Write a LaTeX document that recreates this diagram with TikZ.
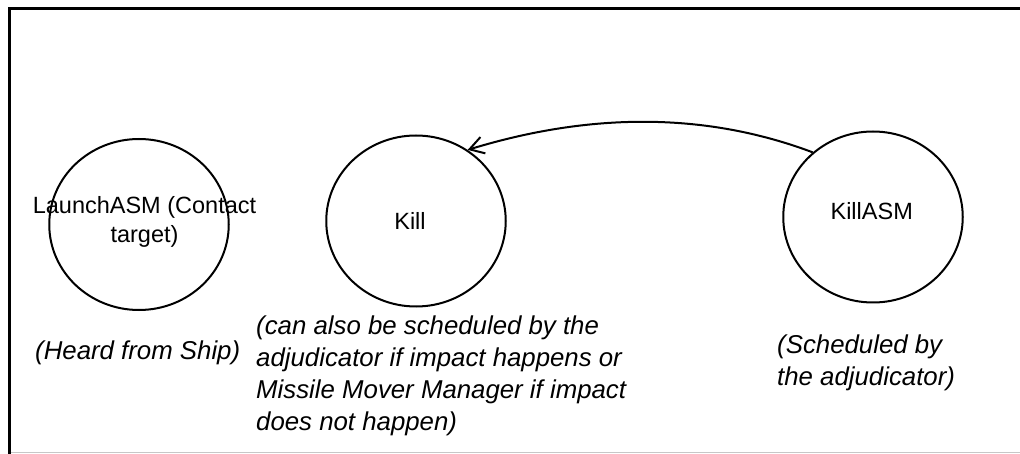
\documentclass[tikz,border=0pt]{standalone}
\usepackage{fontspec}
\setmainfont{Liberation Sans}
\usetikzlibrary{shapes.geometric,arrows.meta}
\begin{document}
\begin{tikzpicture}[x=1pt,y=-1pt,
  statebox/.style={draw=black, line width=2pt, ellipse, minimum width=179.5pt, minimum height=171pt, inner sep=0pt},
  labeltext/.style={font=\fontsize{23.5}{29.5}\selectfont, inner sep=0pt, align=center},
  notetext/.style={font=\fontsize{25.8}{32}\selectfont\itshape, inner sep=0pt, align=left, anchor=north west},
  frameline/.style={line width=3pt, draw=black},
  trans/.style={line width=2pt, -{Straight Barb[length=14pt,width=17pt]}}]
\useasboundingbox (0,0) rectangle (1020,454);
% frame
\coordinate (tl) at (9.5,8.8);
\coordinate (tr) at (1020,8.8);
\coordinate (bl) at (9.5,454);
\coordinate (gl) at (11,452.5);
\coordinate (gr) at (1020,452.5);
\draw[frameline] (tr) -- (tl) -- (bl);
\draw[black!22, line width=1pt] (gl) -- (gr);
% states
\node[statebox] (launch) at (139,224.5) {};
\node[statebox] (kill) at (416,221) {};
\node[statebox] (killasm) at (873,217) {};
% state labels
\node[labeltext, anchor=north] (launchtxt) at (144.5,192.35) {\strut LaunchASM (Contact\\\strut target)};
\node[labeltext, anchor=base] (killtxt) at (410,229.3) {Kill};
\node[labeltext, anchor=base] (killasmtxt) at (871.7,219.3) {KillASM};
% notes
\node[notetext, anchor=base west] (shipnote) at (35,359.3) {(Heard from Ship)};
\node[notetext] (killnote) at (256,311.6) {\strut(can also be scheduled by the\\\strut adjudicator if impact happens or\\\strut Missile Mover Manager if impact\\\strut does not happen)};
\node[notetext] (killasmnote) at (777,330.9) {\strut(Scheduled by\\\strut the adjudicator)};
% transition
\draw[trans] (killasm.133) .. controls (705.7,112) and (590.3,112.3) .. (kill.54);
\end{tikzpicture}
\end{document}
